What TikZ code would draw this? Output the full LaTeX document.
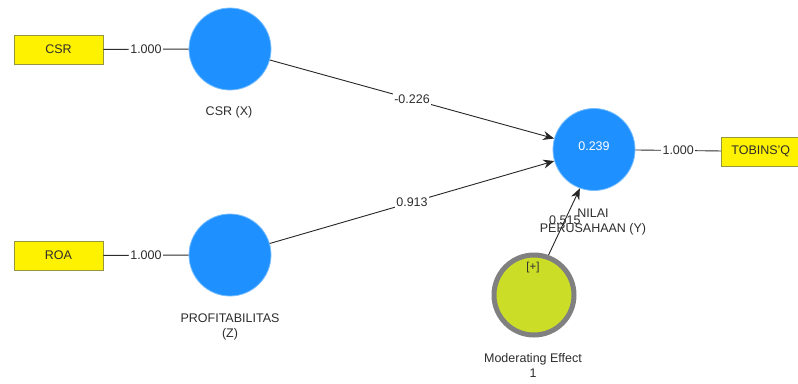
\documentclass[tikz,border=0pt]{standalone}
\usepackage{fontspec}
\setmainfont{Liberation Sans}
\usetikzlibrary{arrows.meta}
\definecolor{lvblue}{RGB}{30,144,255}
\definecolor{lvedge}{RGB}{120,190,255}
\definecolor{modfill}{RGB}{204,221,40}
\definecolor{modedge}{RGB}{128,128,128}
\definecolor{txt}{RGB}{45,45,45}
\definecolor{boxedge}{RGB}{150,150,60}
\tikzset{
  latent/.style={circle, fill=lvblue, draw=lvedge, line width=0.8pt, minimum size=82pt, inner sep=0pt},
  modvar/.style={circle, fill=modfill, draw=modedge, line width=5pt, minimum size=80pt, inner sep=0pt},
  indic/.style={rectangle, fill=yellow, draw=boxedge, line width=0.6pt, minimum width=89pt, minimum height=29pt, inner sep=0pt, font=\fontsize{12.5}{14}\selectfont, text=txt},
  lab/.style={font=\fontsize{12.5}{15}\selectfont, text=txt, align=center},
  conn/.style={draw=txt, line width=0.9pt},
  path/.style={draw=black!85, line width=0.9pt, -{Stealth[length=11pt,width=9pt]}},
  wlab/.style={fill=white, inner sep=1.5pt, font=\fontsize{12.5}{14}\selectfont, text=txt},
}
\begin{document}
\begin{tikzpicture}[x=1pt,y=-1pt]
\clip (0,0) rectangle (798,383);
\fill[white] (0,0) rectangle (798,383);
% indicators
\node[indic] (csrbox) at (58.5,49.5) {CSR};
\node[indic] (roabox) at (58.5,255.5) {ROA};
\node[indic, anchor=west] (tobbox) at (721,151.5) {\hspace*{-10pt}TOBINS'Q};
% latent variables
\node[latent] (csrx) at (230,49) {};
\node[latent] (prof) at (230,255) {};
\node[latent] (nilai) at (594,149.5) {};
\node[text=white, font=\fontsize{12.5}{14}\selectfont] (r2) at (594,146) {0.239};
\node[modvar] (mod) at (534,295) {};
\node[lab, font=\fontsize{11.5}{13}\selectfont] (plus) at (533,268) {[+]};
% labels
\node[lab] (csrxl) at (229,112) {CSR (X)};
\node[lab] (profl) at (230,327) {PROFITABILITAS\\(Z)};
\node[lab] (nilail) at (593,222) {NILAI\\PERUSAHAAN (Y)};
\node[lab] (modl) at (533,365) {Moderating Effect\\1};
% outer loadings
\draw[conn] (csrbox) -- node[wlab] {1.000} (csrx);
\draw[conn] (roabox) -- node[wlab] {1.000} (prof);
\draw[conn] (nilai) -- node[wlab] {1.000} (tobbox);
% structural paths
\draw[path] (csrx) -- node[wlab] {-0.226} (nilai);
\draw[path] (prof) -- node[wlab] {0.913} (nilai);
\draw[path] (mod.70) -- node[pos=0.52, font=\fontsize{12.5}{14}\selectfont, text=txt, inner sep=0pt] {0.515} (nilai.250);
\end{tikzpicture}
\end{document}
